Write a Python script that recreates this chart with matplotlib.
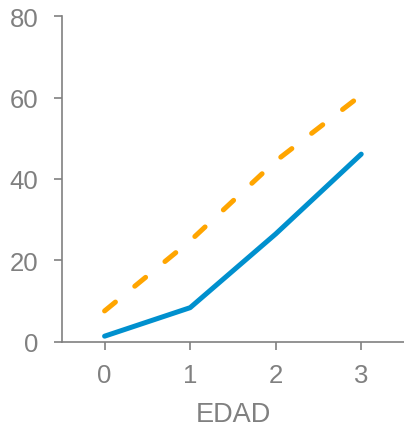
import matplotlib.pyplot as plt

# Data
edad = [0, 1, 2, 3]
serie_azul = [1.4, 8.4, 26.5, 46.1]
serie_naranja = [7.6, 24.8, 44.4, 60.6]
y_ticks = [0, 20, 40, 60, 80]

gris = '#808080'
plt.rcParams['font.family'] = ['Liberation Sans', 'DejaVu Sans']

fig = plt.figure(figsize=(4.04, 4.27), dpi=100)
ax = fig.add_axes([0.153, 0.197, 0.847, 0.763])

ax.plot(edad, serie_azul, color='#0090CE', linewidth=3.6, solid_capstyle='round')
ax.plot(edad, serie_naranja, color='#FFA500', linewidth=3.6,
        dashes=(2.8, 5.0), dash_capstyle='round')

ax.set_xlim(-0.5, 3.5)
ax.set_ylim(0, 80)
ax.set_xticks(edad)
ax.set_yticks(y_ticks)
ax.set_xlabel("EDAD", color=gris, fontsize=19.5, labelpad=10)

for s in ['top', 'right']:
    ax.spines[s].set_visible(False)
for s in ['left', 'bottom']:
    ax.spines[s].set_color(gris)
    ax.spines[s].set_linewidth(1.2)
ax.tick_params(colors=gris, labelsize=18.5, length=6, width=1.2)
ax.tick_params(axis='y', pad=11)
ax.tick_params(axis='x', pad=9)

fig.savefig("out.png", dpi=100)
